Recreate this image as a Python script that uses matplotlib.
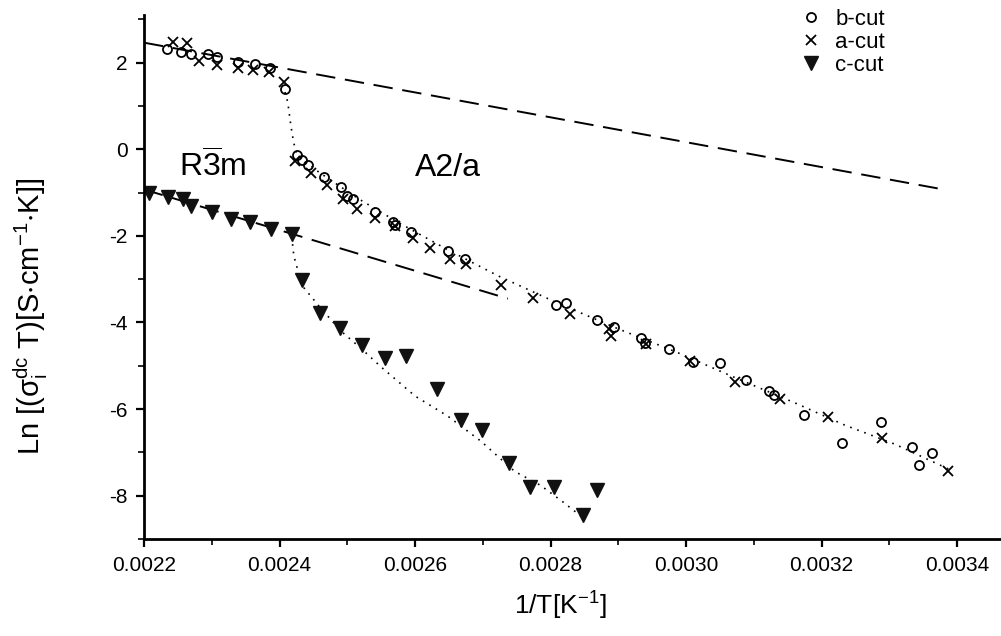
#!/usr/bin/env python3
"""Arrhenius plot of dc conductivity for b-, a- and c-cut crystals."""
import matplotlib
matplotlib.use("Agg")
import matplotlib.pyplot as plt
from matplotlib.ticker import MultipleLocator, FormatStrFormatter

# b-cut (open circles)
b_x = [0.002234, 0.002254, 0.002270, 0.002294, 0.002308, 0.002339, 0.002364, 0.002386, 0.002408,
       0.002426, 0.002433, 0.002442, 0.002465, 0.002490, 0.002499, 0.002508, 0.002541, 0.002568,
       0.002571, 0.002594, 0.002648, 0.002673, 0.002808, 0.002823, 0.002868, 0.002893, 0.002933,
       0.002939, 0.002975, 0.003010, 0.003050, 0.003088, 0.003122, 0.003129, 0.003174, 0.003230,
       0.003287, 0.003334, 0.003343, 0.003363]
b_y = [2.32, 2.25, 2.20, 2.20, 2.13, 2.02, 1.97, 1.88, 1.39,
       -0.14, -0.25, -0.37, -0.65, -0.88, -1.09, -1.14, -1.46, -1.69,
       -1.76, -1.90, -2.36, -2.53, -3.59, -3.55, -3.94, -4.10, -4.36,
       -4.47, -4.61, -4.91, -4.94, -5.33, -5.59, -5.68, -6.14, -6.79,
       -6.30, -6.88, -7.28, -7.02]

# a-cut (crosses)
a_x = [0.002242, 0.002264, 0.002281, 0.002308, 0.002339, 0.002361, 0.002385, 0.002407,
       0.002423, 0.002446, 0.002470, 0.002494, 0.002515, 0.002541, 0.002571, 0.002597,
       0.002622, 0.002651, 0.002675, 0.002727, 0.002774, 0.002829, 0.002886, 0.002889,
       0.002941, 0.003006, 0.003072, 0.003139, 0.003210, 0.003289, 0.003387]
a_y = [2.48, 2.46, 2.04, 1.95, 1.88, 1.83, 1.78, 1.55,
       -0.28, -0.56, -0.83, -1.16, -1.39, -1.58, -1.78, -2.06,
       -2.29, -2.53, -2.64, -3.13, -3.43, -3.80, -4.15, -4.31,
       -4.50, -4.89, -5.38, -5.77, -6.19, -6.67, -7.42]

# c-cut (filled down triangles)
c_x = [0.002207, 0.002235, 0.002257, 0.002270, 0.002300, 0.002328, 0.002357, 0.002388, 0.002418,
       0.002433, 0.002459, 0.002489, 0.002521, 0.002555, 0.002587, 0.002632, 0.002667, 0.002698,
       0.002738, 0.002770, 0.002805, 0.002848, 0.002868]
c_y = [-1.00, -1.11, -1.16, -1.32, -1.46, -1.60, -1.67, -1.85, -1.95,
       -3.01, -3.78, -4.13, -4.52, -4.82, -4.77, -5.54, -6.26, -6.49,
       -7.25, -7.81, -7.79, -8.44, -7.86]

# dashed Arrhenius extrapolations of the high-T phase
dash_hi_x = [0.00220, 0.00338]
dash_hi_y = [2.46, -0.93]
dash_lo_x = [0.00220, 0.002737]
dash_lo_y = [-0.93, -3.45]

# dotted guide curves
dot_ab_x = [0.002408, 0.002412, 0.002417, 0.002421, 0.002426, 0.002458, 0.002516, 0.002575,
            0.002648, 0.002722, 0.002810, 0.002897, 0.002985, 0.003073, 0.003161, 0.003234,
            0.003308, 0.003388]
dot_ab_y = [1.32, 1.09, 0.51, 0.14, -0.14, -0.53, -1.14, -1.69,
            -2.32, -2.92, -3.55, -4.13, -4.68, -5.28, -5.86, -6.37,
            -6.81, -7.39]
dot_c_x = [0.002418, 0.002421, 0.002427, 0.002436, 0.002458, 0.002490, 0.002521, 0.002550,
           0.002600, 0.002648, 0.002697, 0.002747, 0.002785, 0.002817, 0.002851]
dot_c_y = [-2.02, -2.46, -2.80, -3.20, -3.62, -4.19, -4.61, -5.03,
           -5.70, -6.16, -6.74, -7.44, -7.76, -8.13, -8.55]

plt.rcParams["font.family"] = ["Liberation Sans", "DejaVu Sans"]
plt.rcParams["mathtext.fontset"] = "custom"
plt.rcParams["mathtext.rm"] = "Liberation Sans"
plt.rcParams["mathtext.it"] = "Liberation Sans"
plt.rcParams["mathtext.default"] = "regular"
plt.rcParams["axes.unicode_minus"] = False

fig = plt.figure(figsize=(10.01, 6.36), dpi=100)
ax = fig.add_axes([0.1439, 0.1525, 0.855, 0.824])

ax.plot(dash_hi_x, dash_hi_y, color="black", lw=1.4, ls=(0, (10, 5)))
ax.plot(dash_lo_x, dash_lo_y, color="black", lw=1.4, ls=(0, (10, 5)))
ax.plot(dot_ab_x, dot_ab_y, color="black", lw=1.2, ls=(0, (1, 3.5)))
ax.plot(dot_c_x, dot_c_y, color="black", lw=1.2, ls=(0, (1, 3.5)))

ax.plot(b_x, b_y, ls="none", marker="o", ms=6.5, mfc="none", mec="black", mew=1.3, label="b-cut")
ax.plot(a_x, a_y, ls="none", marker="x", ms=6.5, mec="black", mew=1.3, label="a-cut")
ax.plot(c_x, c_y, ls="none", marker="v", ms=10, mfc="#111111", mec="#111111", label="c-cut")

ax.text(0.0022517, -0.63, r"R$\overline{3}$m", fontsize=23, ha="left", va="baseline")
ax.text(0.0026, -0.63, "A2/a", fontsize=23, ha="left", va="baseline")

ax.set_xlim(0.0022, 0.003463)
ax.set_ylim(-9, 3.1)
ax.xaxis.set_major_locator(MultipleLocator(0.0002))
ax.xaxis.set_minor_locator(MultipleLocator(0.0001))
ax.xaxis.set_major_formatter(FormatStrFormatter("%.4f"))
ax.yaxis.set_major_locator(MultipleLocator(2))
ax.yaxis.set_minor_locator(MultipleLocator(1))

for side in ("top", "right"):
    ax.spines[side].set_visible(False)
for side in ("left", "bottom"):
    ax.spines[side].set_linewidth(2)
ax.tick_params(which="major", direction="out", length=6, width=1.6, labelsize=15, pad=6)
ax.tick_params(which="minor", direction="out", length=4, width=1.2)

ax.set_xlabel(r"1/T[K$^{-1}$]", fontsize=19)
ax.xaxis.set_label_coords(0.486, -0.097)
ax.set_ylabel(r"Ln [($\sigma_i^{dc}$ T)[S$\cdot$cm$^{-1}$$\cdot$K]]", fontsize=21)
ax.yaxis.set_label_coords(-0.11, 0.425)

ax.legend(loc="upper left", bbox_to_anchor=(0.74, 1.05), frameon=False, fontsize=16,
          handlelength=1.2, handletextpad=0.5, labelspacing=0.1)

fig.savefig("out.png", dpi=100)
